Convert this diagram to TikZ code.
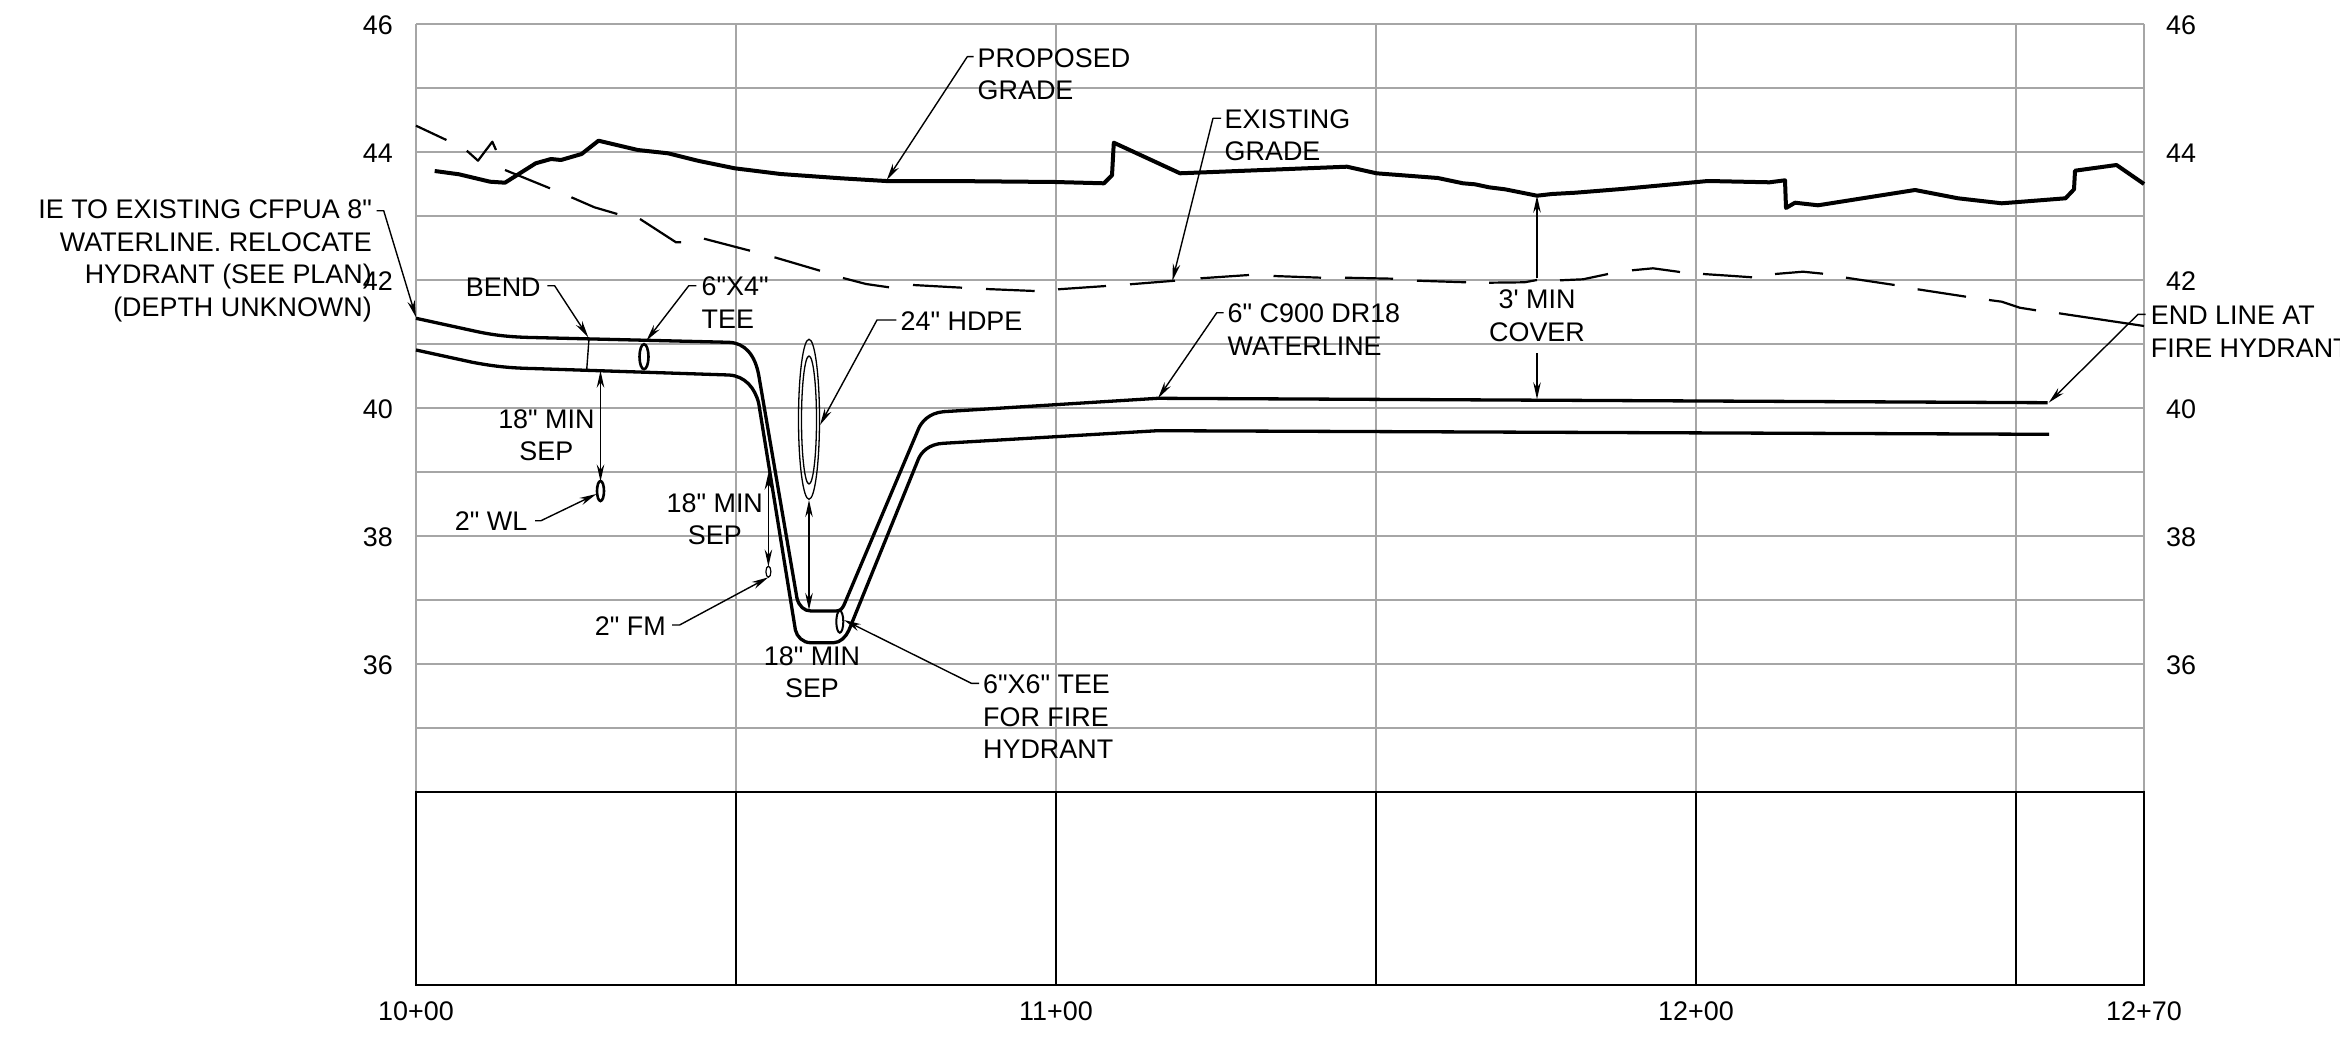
\documentclass[tikz,border=0pt]{standalone}
\usepackage{fontspec}
\usetikzlibrary{arrows.meta,shapes.geometric}
\newfontfamily\labfont{Liberation Sans}
\tikzset{
  lab/.style={font=\fontsize{26.9}{32.4}\labfont, inner sep=0pt, text=black, yshift=-0.8pt},
  labl/.style={lab, align=left, anchor=west},
  labr/.style={lab, align=right, anchor=east},
  labc/.style={lab, align=center, anchor=center},
  gridline/.style={draw=gridgrey, line width=2.4pt},
  boxline/.style={draw=black, line width=2.2pt},
  grade/.style={draw=black, line width=4pt, line join=round},
  pipe/.style={draw=black, line width=3.3pt, line join=round},
  existdash/.style={draw=black, line width=2.2pt, line join=round},
  thin line/.style={draw=black, line width=1.4pt},
  leader/.style={draw=black, line width=1.4pt, line join=round, -{Stealth[length=17pt,width=7.5pt]}},
  dimboth/.style={draw=black, line width=1.4pt, {Stealth[length=17pt,width=7.5pt]}-{Stealth[length=17pt,width=7.5pt]}},
  fitting/.style={ellipse, draw=black, inner sep=0pt, fill=none},
}
\definecolor{gridgrey}{HTML}{A6A6A6}
\begin{document}
\begin{tikzpicture}[x=1pt,y=-1pt]
\useasboundingbox (0,0) rectangle (2340,1038);
% grid
\foreach \yy in {24,88,152,216,280,344,408,472,536,600,664,728}
  \draw[gridline] (416,\yy) -- (2144,\yy);
\foreach \xx in {416,736,1056,1376,1696,2016,2144}
  \draw[gridline] (\xx,24) -- (\xx,792);
% profile table
\draw[boxline] (416,792) rectangle (2144,985);
\foreach \xx in {736,1056,1376,1696,2016}
  \draw[boxline] (\xx,792) -- (\xx,985);
% axis labels
\foreach \yy/\tt in {24/46,152/44,280/42,408/40,536/38,664/36}{
  \node[labr] (lf\tt) at (393,\yy) {\tt};
  \node[labl] (rt\tt) at (2166,\yy) {\tt};
}
\node[labc] (st0) at (416,1010) {10+00};
\node[labc] (st1) at (1056,1010) {11+00};
\node[labc] (st2) at (1696,1010) {12+00};
\node[labc] (st3) at (2144,1010) {12+70};
% proposed grade
\draw[grade] (434.7,171) -- (459,174.3) -- (490,181.7) -- (505,182.7) -- (535.7,163.3) -- (551,159) -- (561,160) -- (581.6,154) -- (598.5,140.7) -- (637.8,150) -- (668,153.3) -- (699,161) -- (734.7,168.3) -- (780.6,174) -- (841,178.3) -- (885.7,181) -- (948,181) -- (1055,182) -- (1104,183.3) -- (1112,175.3) -- (1113.8,142.7) -- (1180,173.3) -- (1347,166.7) -- (1376.5,173.3) -- (1437.8,178) -- (1463,183.3) -- (1475,184.3) -- (1489,187.3) -- (1505,189.3) -- (1537,195.7) -- (1552,194) -- (1575.5,192.7) -- (1621.6,189) -- (1708,181) -- (1769.6,182.3) -- (1785,180.3) -- (1786,208) -- (1795,202.7) -- (1818,205.3) -- (1915,190) -- (1958,198.3) -- (2001.7,203.3) -- (2065.5,198.3) -- (2074,189.3) -- (2075,170.7) -- (2116.5,165) -- (2144,184);
% existing grade
\foreach \seg in {
  {(416,125.7) -- (446.4,140)},
  {(466.8,150.7) -- (478,160.7) -- (492.3,141.7) -- (496,150)},
  {(505,170) -- (550,188.3)},
  {(571.4,197.3) -- (594.4,207.3) -- (617.3,214)},
  {(640,219) -- (676,242.3) -- (681,242.3)},
  {(704,238.7) -- (750,250.7)},
  {(774.5,257.3) -- (820,270.7)},
  {(843,278) -- (866,284) -- (889,287.3)},
  {(913,285) -- (962,287.7)},
  {(986,289) -- (1034.7,291)},
  {(1058,289.3) -- (1106,286)},
  {(1130,284.3) -- (1175,280.7)},
  {(1200.5,278.3) -- (1249,275)},
  {(1273.5,276) -- (1321,277.7)},
  {(1345,277.7) -- (1393,278.7)},
  {(1417,280.7) -- (1466,282.3)},
  {(1489,282.7) -- (1524.5,282.3) -- (1537,280)},
  {(1560,280.3) -- (1583,279.3) -- (1608,274)},
  {(1632,270.3) -- (1653,268.3) -- (1680,272)},
  {(1703,274) -- (1729,275.7) -- (1752,277.3)},
  {(1775,274) -- (1803,271.7) -- (1823,273.7)},
  {(1846,277.7) -- (1894.6,285)},
  {(1917.6,289.3) -- (1966,296.7)},
  {(1989,300) -- (2001.7,301.7) -- (2019.6,307.7) -- (2036,310.3)},
  {(2059,313.3) -- (2144,326)}}
  \draw[existdash] \seg;
% pipes
\draw[pipe] (416,318.3) -- (472,330.5) .. controls (492,335) and (508,337) .. (532,337.5) -- (729,342.3) .. controls (745,343) and (755,355) .. (758.7,375) -- (797,598.3) .. controls (799,606) and (804,611) .. (811,611) -- (836,611) .. controls (840,611) and (842,609) .. (844,605) -- (918,430) .. controls (921,422) and (929,413) .. (943.4,411.7) -- (1157.6,398.3) -- (2047.7,402.7);
\draw[pipe] (416,350) -- (472,362.2) .. controls (492,366) and (508,368) .. (532,368.5) -- (729,375) .. controls (745,376) and (755,388) .. (758.7,403.3) -- (795.4,630) .. controls (797,637) and (803,642.7) .. (810.7,642.7) -- (833.7,642.7) .. controls (840,642.7) and (846,637) .. (849,630) -- (918,460) .. controls (921,452) and (929,444) .. (943.4,443.3) -- (1157.6,430.7) -- (2049,434.3);
% named points
\coordinate (bendtop) at (589,338.7);
\coordinate (bendbot) at (586.7,370);
\draw[thin line] (bendtop) -- (bendbot);
% fittings
\node[fitting, line width=2.6pt, minimum width=9pt, minimum height=25pt] (tee64) at (644,356.7) {};
\node[fitting, line width=2.6pt, minimum width=7pt, minimum height=20pt] (wl2) at (600.5,491) {};
\node[fitting, line width=1.2pt, minimum width=5pt, minimum height=11pt] (fm2) at (768.4,571.7) {};
\node[fitting, line width=1.3pt, minimum width=21pt, minimum height=160pt] (hdpeo) at (809,419.3) {};
\node[fitting, line width=1.3pt, minimum width=15pt, minimum height=128pt] (hdpei) at (809,420) {};
\node[fitting, line width=2pt, minimum width=7pt, minimum height=22pt] (tee66) at (839.8,621.7) {};
% labels
\node[labl] (lprop) at (977.5,73.3) {PROPOSED\\GRADE};
\node[labl] (lexist) at (1224.5,134.2) {EXISTING\\GRADE};
\node[labl] (lhdpe) at (900.5,320.7) {24" HDPE};
\node[labl] (lc900) at (1227.5,329) {6" C900 DR18\\WATERLINE};
\node[labc] (lcover) at (1537,315) {3' MIN\\COVER};
\node[labl] (lend) at (2150.7,331) {END LINE AT\\FIRE HYDRANT};
\node[labr] (lie) at (372,260) {IE TO EXISTING CFPUA 8"\\WATERLINE. RELOCATE\\HYDRANT (SEE PLAN)\\(DEPTH UNKNOWN)};
\node[labr] (lbend) at (540.8,286) {BEND};
\node[labl] (ltee64) at (701.5,302) {6"X4"\\TEE};
\node[labc] (lsep1) at (546.4,434.5) {18" MIN\\SEP};
\node[labc] (lsep2) at (714.8,518.3) {18" MIN\\SEP};
\node[labc] (lsep3) at (812,671.5) {18" MIN\\SEP};
\node[labr] (lwl) at (527.5,520) {2" WL};
\node[labr] (lfm) at (666,625.7) {2" FM};
\node[labl] (ltee66) at (983,716) {6"X6" TEE\\FOR FIRE\\HYDRANT};
% leader points
\coordinate (ieA) at (376.5,210.7); \coordinate (ieB) at (383.7,210.7); \coordinate (ieT) at (416,317.3);
\coordinate (bnA) at (547.4,285.7); \coordinate (bnB) at (554.6,285.7); \coordinate (bnT) at (588.3,337.3);
\coordinate (t4A) at (696.4,285.7); \coordinate (t4B) at (688.8,285.7); \coordinate (t4T) at (646.4,340.7);
\coordinate (wlA) at (535,520.7); \coordinate (wlB) at (541,520.7); \coordinate (wlT) at (596.4,494);
\coordinate (fmA) at (672,625); \coordinate (fmB) at (679.6,625); \coordinate (fmT) at (768.4,577.3);
\coordinate (hdA) at (896.4,320); \coordinate (hdB) at (877,320); \coordinate (hdT) at (820,425);
\coordinate (t6A) at (979,683.3); \coordinate (t6B) at (971.4,683.3); \coordinate (t6T) at (844,620);
\coordinate (prA) at (973.5,56.7); \coordinate (prB) at (967.3,56.7); \coordinate (prT) at (886.7,180);
\coordinate (exA) at (1221,118.3); \coordinate (exB) at (1213,118.3); \coordinate (exT) at (1172.4,280.7);
\coordinate (c9A) at (1223.5,312.7); \coordinate (c9B) at (1216.8,312.7); \coordinate (c9T) at (1158,398.3);
\coordinate (enA) at (2145.6,314.3); \coordinate (enB) at (2138,314.3); \coordinate (enT) at (2048.7,402.7);
\foreach \p in {ie,bn,t4,wl,fm,hd,t6,pr,ex,c9,en}
  \draw[leader] (\p A) -- (\p B) -- (\p T);
% dimension arrows
\coordinate (d1a) at (600.5,370.7); \coordinate (d1b) at (600.5,481.5);
\coordinate (d2a) at (768.4,472.7); \coordinate (d2b) at (768.4,566.5);
\coordinate (d3a) at (809,500); \coordinate (d3b) at (809,610);
\coordinate (c1a) at (1537,278.3); \coordinate (c1b) at (1537,195.7);
\coordinate (c2a) at (1537,353.3); \coordinate (c2b) at (1537,399.3);
\draw[dimboth] (d1a) -- (d1b);
\draw[dimboth] (d2a) -- (d2b);
\draw[dimboth] (d3a) -- (d3b);
\draw[leader] (c1a) -- (c1b);
\draw[leader] (c2a) -- (c2b);
\end{tikzpicture}
\end{document}
